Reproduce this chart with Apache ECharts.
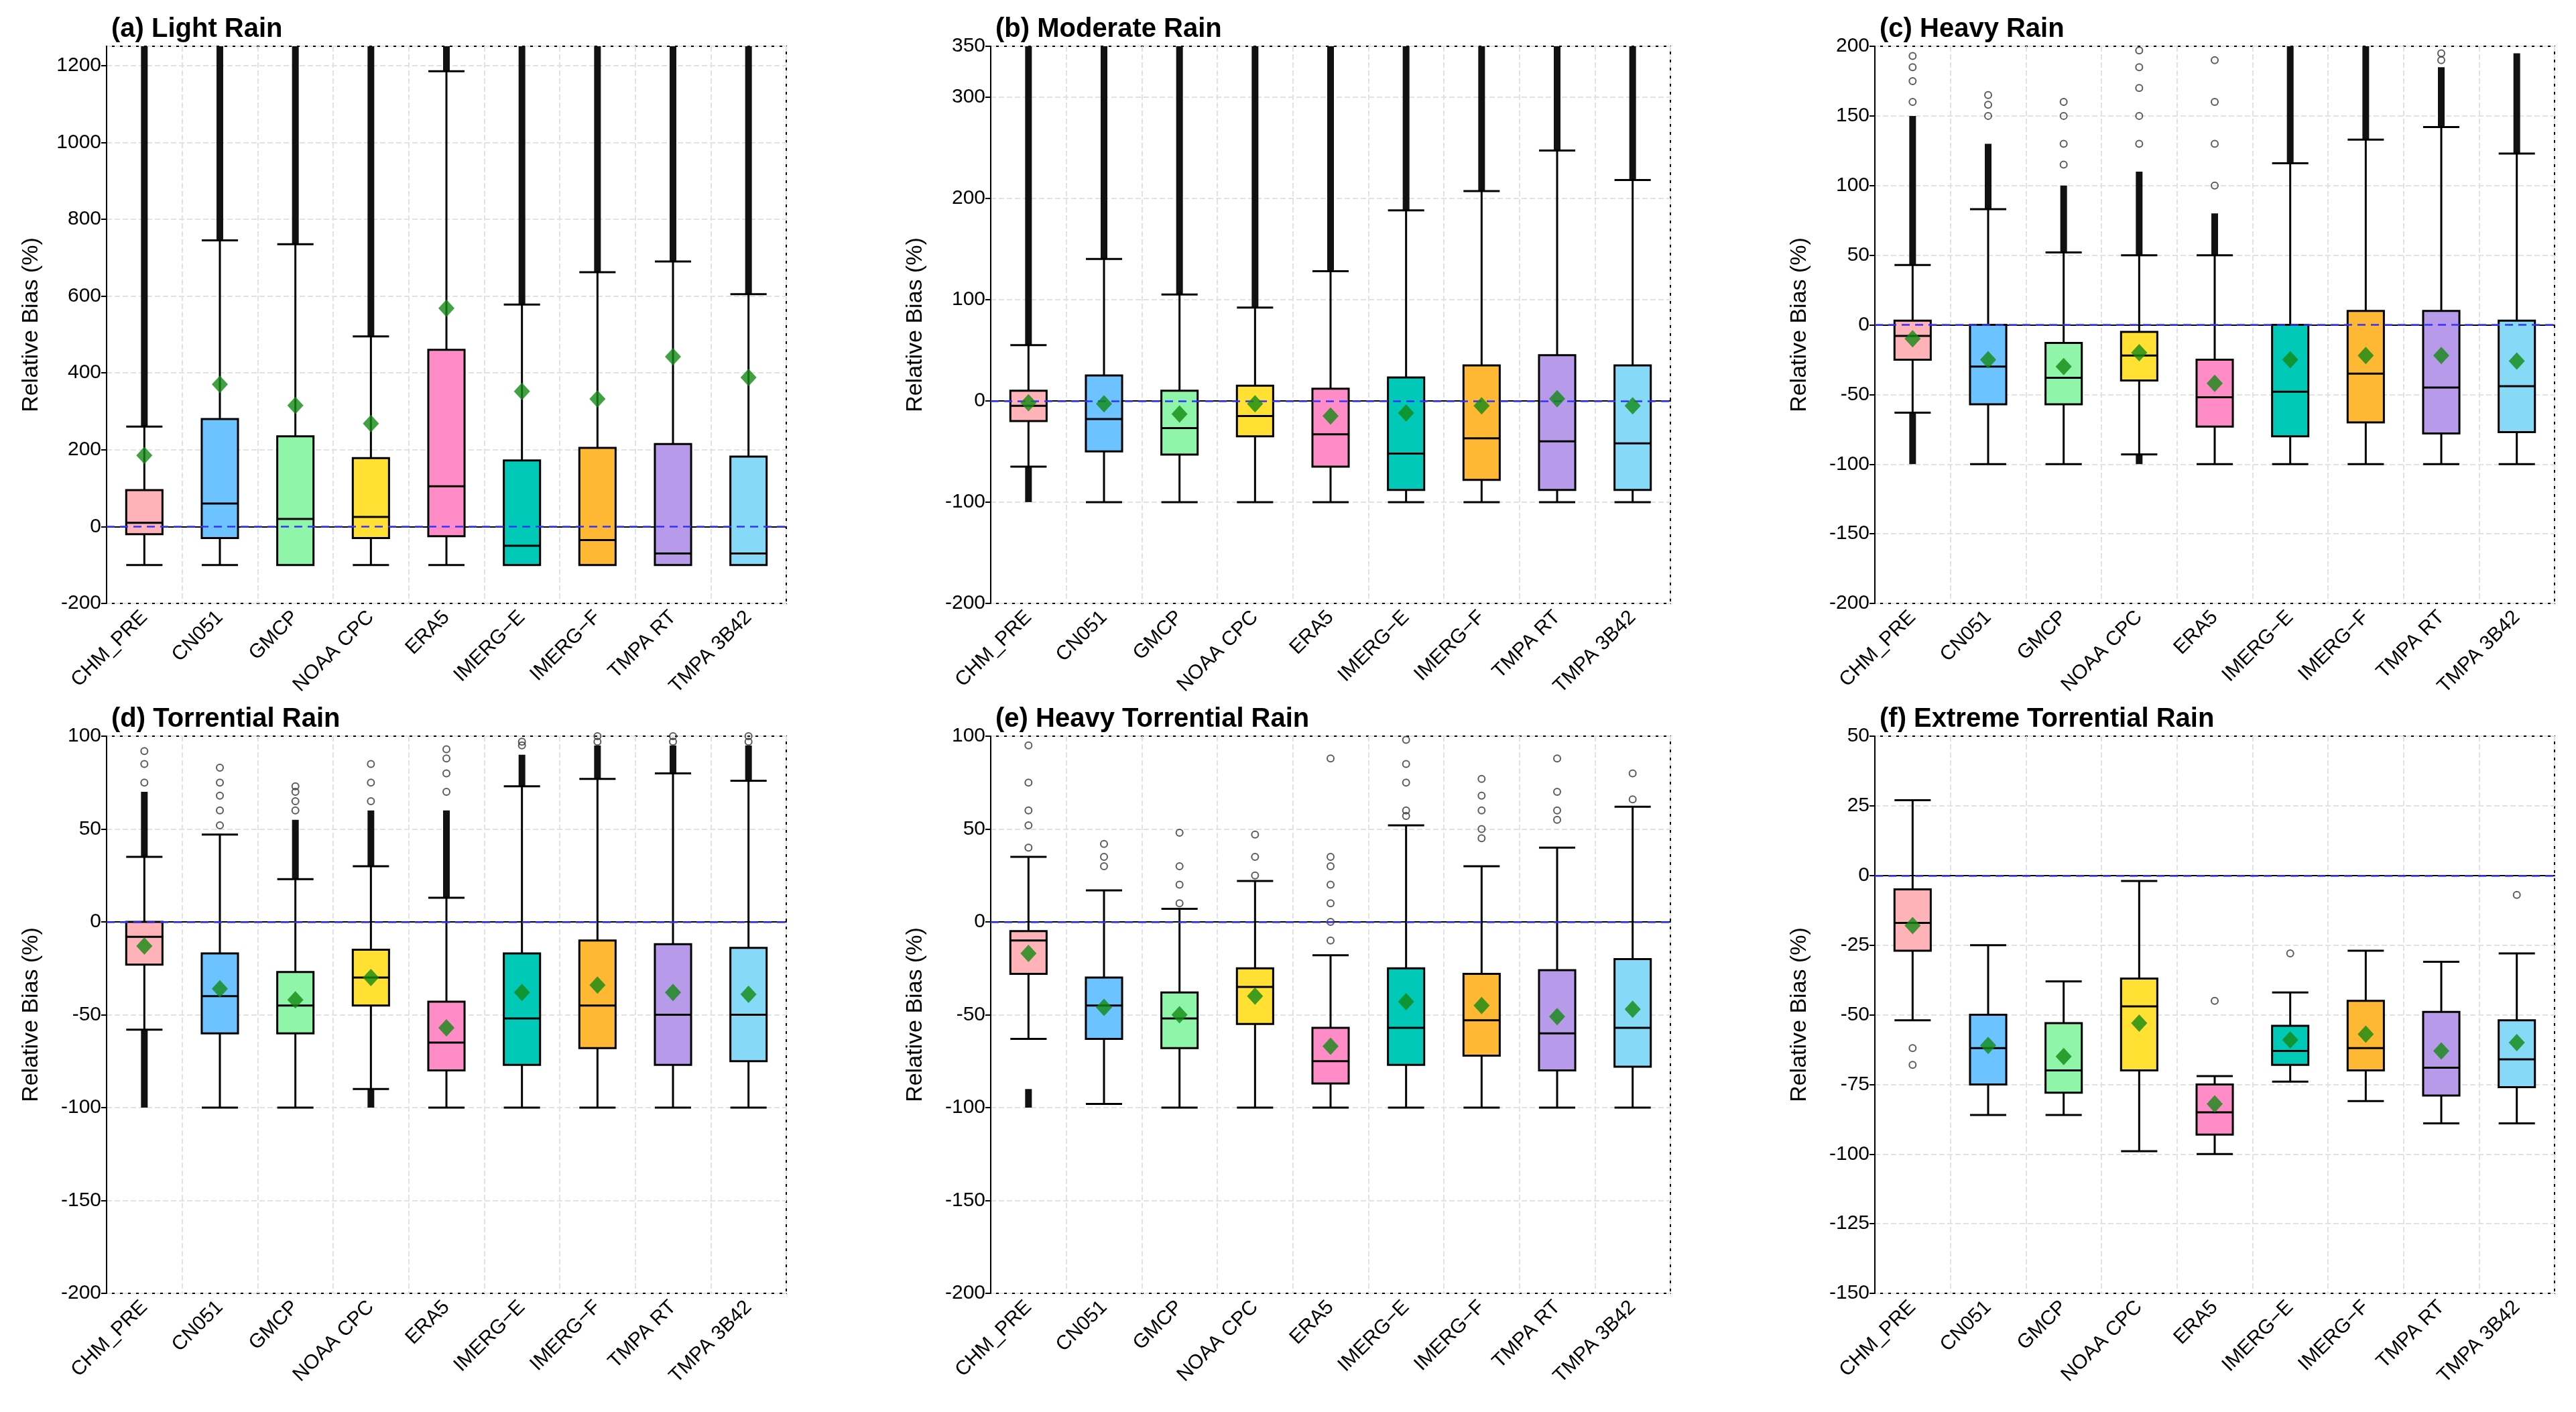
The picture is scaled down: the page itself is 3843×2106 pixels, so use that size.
<!DOCTYPE html>
<html><head><meta charset="utf-8">
<script src="https://cdn.jsdelivr.net/npm/echarts@6/dist/echarts.min.js"></script>
<style>html,body{margin:0;background:#fff}#c{width:3843px;height:2106px}</style>
</head><body><div id="c"></div>
<script>
var categories = ['CHM_PRE','CN051','GMCP','NOAA CPC','ERA5','IMERG\u2212E','IMERG\u2212F','TMPA RT','TMPA 3B42'];
var boxColors = ['#FFB3B8','#6CC3FF','#8FF5A8','#FFE033','#FF8CC6','#00C9B8','#FFB833','#B89AEB','#86D9F7'];
var titles = ['(a) Light Rain','(b) Moderate Rain','(c) Heavy Rain','(d) Torrential Rain','(e) Heavy Torrential Rain','(f) Extreme Torrential Rain'];
var yRange = [[-200,1250,200],[-200,350,100],[-200,200,50],[-200,100,50],[-200,100,50],[-150,50,25]];

// [whisker low, Q1, median, Q3, whisker high]
var boxA = [[-100,-20,10,95,260],[-100,-30,60,280,745],[-100,-100,20,235,735],[-100,-30,25,178,495],[-100,-25,105,460,1185],[-100,-100,-50,172,578],[-100,-100,-35,205,662],[-100,-100,-70,215,690],[-100,-100,-70,182,605]];
var boxB = [[-65,-20,-5,10,55],[-100,-50,-18,25,140],[-100,-53,-27,10,105],[-100,-35,-15,15,92],[-100,-65,-33,12,128],[-100,-88,-52,23,188],[-100,-78,-37,35,207],[-100,-88,-40,45,247],[-100,-88,-42,35,218]];
var boxC = [[-63,-25,-8,3,43],[-100,-57,-30,0,83],[-100,-57,-38,-13,52],[-93,-40,-22,-5,50],[-100,-73,-52,-25,50],[-100,-80,-48,0,116],[-100,-70,-35,10,133],[-100,-78,-45,10,142],[-100,-77,-44,3,123]];
var boxD = [[-58,-23,-8,0,35],[-100,-60,-40,-17,47],[-100,-60,-45,-27,23],[-90,-45,-30,-15,30],[-100,-80,-65,-43,13],[-100,-77,-52,-17,73],[-100,-68,-45,-10,77],[-100,-77,-50,-12,80],[-100,-75,-50,-14,76]];
var boxE = [[-63,-28,-10,-5,35],[-98,-63,-45,-30,17],[-100,-68,-52,-38,7],[-100,-55,-35,-25,22],[-100,-87,-75,-57,-18],[-100,-77,-57,-25,52],[-100,-72,-53,-28,30],[-100,-80,-60,-26,40],[-100,-78,-57,-20,62]];
var boxF = [[-52,-27,-17,-5,27],[-86,-75,-62,-50,-25],[-86,-78,-70,-53,-38],[-99,-70,-47,-37,-2],[-100,-93,-85,-75,-72],[-74,-68,-63,-54,-42],[-81,-70,-62,-45,-27],[-89,-79,-69,-49,-31],[-89,-76,-66,-52,-28]];

var meanA = [185,370,315,268,568,352,332,442,388];
var meanB = [-2,-3,-13,-3,-15,-12,-5,2,-5];
var meanC = [-10,-25,-30,-20,-42,-25,-22,-22,-26];
var meanD = [-13,-36,-42,-30,-57,-38,-34,-38,-39];
var meanE = [-17,-46,-50,-40,-67,-43,-45,-51,-47];
var meanF = [-18,-61,-65,-53,-82,-59,-57,-63,-60];

// dense outlier bands: [category index, from, to]
var bandA = [[0,260,1250],[1,745,1250],[2,735,1250],[3,495,1250],[4,1185,1250],[5,578,1250],[6,662,1250],[7,690,1250],[8,605,1250]];
var bandB = [[0,55,350],[0,-100,-65],[1,140,350],[2,105,350],[3,92,350],[4,128,350],[5,188,350],[6,207,350],[7,247,350],[8,218,350]];
var bandC = [[0,43,150],[0,-100,-63],[1,83,130],[2,52,100],[3,50,110],[3,-100,-93],[4,50,80],[5,116,200],[6,133,200],[7,142,185],[8,123,195]];
var bandD = [[0,35,70],[0,-100,-58],[2,23,55],[3,30,60],[3,-100,-90],[4,13,60],[5,73,90],[6,77,95],[7,80,95],[8,76,95]];
var bandE = [[0,-100,-90]];
var bandF = [];

// sparse outliers: [category index, value]
var outA = [];
var outB = [];
var outC = [[0,160],[0,175],[0,185],[0,193],[1,150],[1,158],[1,165],[2,115],[2,130],[2,150],[2,160],[3,130],[3,150],[3,170],[3,185],[3,197],[4,100],[4,130],[4,160],[4,190],[7,190],[7,195]];
var outD = [[0,75],[0,85],[0,92],[1,52],[1,60],[1,68],[1,75],[1,83],[2,60],[2,65],[2,70],[2,73],[3,65],[3,75],[3,85],[4,70],[4,80],[4,88],[4,93],[5,95],[5,97],[6,97],[6,100],[7,97],[7,100],[8,97],[8,100]];
var outE = [[0,40],[0,52],[0,60],[0,75],[0,95],[1,30],[1,35],[1,42],[2,10],[2,20],[2,30],[2,48],[3,25],[3,35],[3,47],[4,-10],[4,0],[4,10],[4,20],[4,30],[4,35],[4,88],[5,57],[5,60],[5,75],[5,85],[5,98],[6,45],[6,50],[6,60],[6,68],[6,77],[7,55],[7,60],[7,70],[7,88],[8,66],[8,80]];
var outF = [[0,-62],[0,-68],[4,-45],[5,-28],[8,-7]];

var boxes = [boxA,boxB,boxC,boxD,boxE,boxF];
var means = [meanA,meanB,meanC,meanD,meanE,meanF];
var bands = [bandA,bandB,bandC,bandD,bandE,bandF];
var outs = [outA,outB,outC,outD,outE,outF];

var lefts = [159,1478,2797], tops = [69,1098], W = 1014, H = 831;
var font = 'Liberation Sans';
var opt = {animation:false, textStyle:{fontFamily:font}, title:[], grid:[], xAxis:[], yAxis:[], series:[]};
for (var p = 0; p < 6; p++) {
  var gx = lefts[p % 3], gy = tops[Math.floor(p / 3)];
  opt.title.push({text: titles[p], left: gx + 2, top: gy - 50, textStyle:{fontSize:40, fontWeight:'bold', color:'#000', fontFamily:font}});
  opt.grid.push({left: gx, top: gy, width: W, height: H, show:true, borderColor:'#000', borderWidth:2, backgroundColor:'transparent'});
  opt.xAxis.push({type:'category', gridIndex:p, data:categories, boundaryGap:true,
    axisLine:{lineStyle:{color:'#000',width:2}}, axisTick:{alignWithLabel:true,lineStyle:{color:'#000',width:2},length:8},
    axisLabel:{rotate:45, fontSize:30, color:'#000', margin:16, interval:0},
    splitLine:{show:true, lineStyle:{type:'dashed', color:'#e2e2e2', width:2}}});
  opt.yAxis.push({type:'value', gridIndex:p, min:yRange[p][0], max:yRange[p][1], interval:yRange[p][2],
    name:'Relative Bias (%)', nameLocation:'middle', nameGap:95, nameTextStyle:{fontSize:34, color:'#000'},
    axisLine:{show:true, lineStyle:{color:'#000',width:2}}, axisTick:{show:true, lineStyle:{color:'#000',width:2}, length:8},
    axisLabel:{fontSize:30, color:'#000', formatter:function (v) { return String(v); }},
    splitLine:{show:true, lineStyle:{type:'dashed', color:'#e2e2e2', width:2}}});
  opt.series.push({type:'custom', xAxisIndex:p, yAxisIndex:p, z:1,
    data: bands[p],
    renderItem: function (params, api) {
      var a = api.coord([api.value(0), api.value(1)]), b = api.coord([api.value(0), api.value(2)]);
      return {type:'rect', shape:{x:a[0]-5, y:b[1], width:10, height:a[1]-b[1]}, style:{fill:'#111'}};
    }, encode:{x:0, y:[1,2]}});
  opt.series.push({type:'scatter', xAxisIndex:p, yAxisIndex:p, z:1, data: outs[p], symbol:'circle', symbolSize:10,
    itemStyle:{color:'rgba(0,0,0,0)', borderColor:'#333', borderWidth:2}});
  opt.series.push({type:'boxplot', xAxisIndex:p, yAxisIndex:p, z:2, boxWidth:['48%','48%'],
    data: boxes[p].map(function (v, i) { return {value:v, itemStyle:{color:boxColors[i], borderColor:'#000', borderWidth:3}}; }),
    markLine:{silent:true, symbol:'none', label:{show:false}, lineStyle:{color:'#3333ff', type:[12,8], width:2.5}, data:[{yAxis:0}]}});
  opt.series.push({type:'scatter', xAxisIndex:p, yAxisIndex:p, z:5, data: means[p], symbol:'diamond', symbolSize:[24,26],
    itemStyle:{color:'#138a13'}});
}
echarts.init(document.getElementById('c')).setOption(opt);
</script></body></html>
